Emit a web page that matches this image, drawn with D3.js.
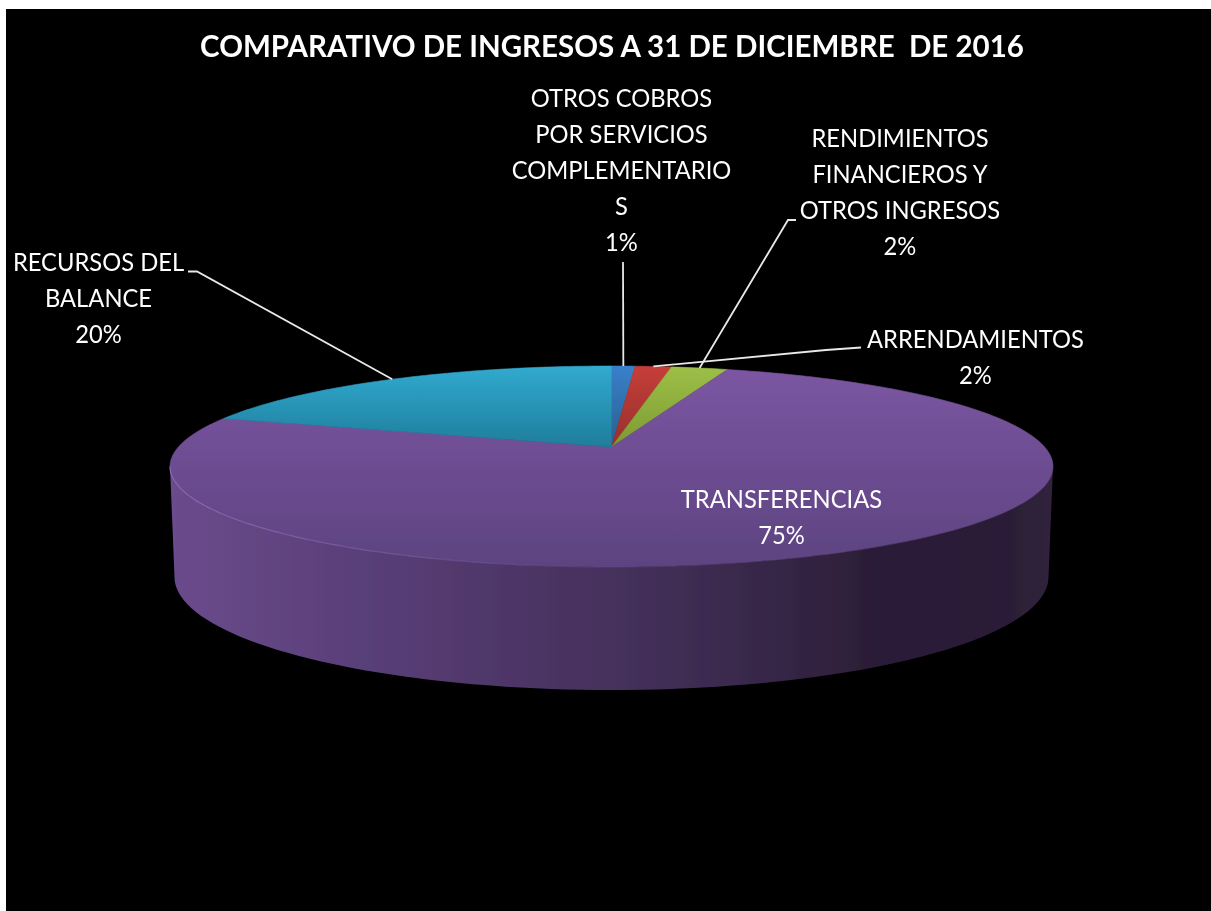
<!DOCTYPE html>
<html>
<head>
<meta charset="utf-8">
<script src="https://cdnjs.cloudflare.com/ajax/libs/d3/7.8.5/d3.min.js"></script>
<style>
  html, body { margin: 0; padding: 0; background: #fff; }
  svg { display: block; }
  text { font-family: Lato, "Open Sans", sans-serif; fill: #fff; }
</style>
</head>
<body>
<div id="chart"></div>
<script>
const chartTitle = "COMPARATIVO DE INGRESOS A 31 DE DICIEMBRE  DE 2016"
const categories = ["OTROS COBROS POR SERVICIOS COMPLEMENTARIOS", "ARRENDAMIENTOS", "RENDIMIENTOS FINANCIEROS Y OTROS INGRESOS", "TRANSFERENCIAS", "RECURSOS DEL BALANCE"]
const shares = [1.04, 1.6, 2.49, 74.95, 19.92]
const labelLines = [
    ["OTROS COBROS", "POR SERVICIOS", "COMPLEMENTARIO", "S"],
    ["ARRENDAMIENTOS"],
    ["RENDIMIENTOS", "FINANCIEROS Y", "OTROS INGRESOS"],
    ["TRANSFERENCIAS"],
    ["RECURSOS DEL", "BALANCE"]
]

const width = 1211, height = 911

// label layout: centre x, first baseline, then the bent part of the leader line
const labelLayout = [
    { x: 621.5, y: 107, from: [623, 262], elbow: null },
    { x: 975.5, y: 348, from: [861, 347.5], elbow: [826, 350] },
    { x: 900, y: 147, from: [796, 220], elbow: [788, 220] },
    { x: 781.5, y: 508 },
    { x: 98.5, y: 271, from: [188, 271.5], elbow: [197, 271.5] }
]
const lineStep = 36

// slice colours, light (back) to dark (front)
const sliceColors = [
    ["#3a7fcb", "#27608f"],
    ["#c63e39", "#96302c"],
    ["#9dbf47", "#7d9a33"],
    ["#7b56a2", "#5d4380"],
    ["#31aacf", "#1f7d9c"]
]

// top of the pie: a circle seen in perspective, so the centre sits above the middle of the ellipse
const cx = 611.5, apexY = 447
const topBack = 366, topFront = 567, topRx = 441.5
const backDy = apexY - topBack, frontDy = topFront - apexY
const b = (backDy - frontDy) / (backDy + frontDy)
const A = frontDy * (1 + b)
const C = topRx * Math.sqrt(1 - b * b)

function project(angle) {
    const u = Math.sin(angle), v = -Math.cos(angle)
    const w = 1 + b * v
    return [cx + C * u / w, apexY + A * v / w]
}

// ellipses for the rim and the base of the wall
const rim = { cx: cx, cy: (topBack + topFront) / 2, rx: topRx, ry: (topFront - topBack) / 2 }
const base = { cx: cx, cy: 577, rx: 437, ry: 113 }
const onEllipse = (e, t) => [e.cx + e.rx * Math.cos(t), e.cy + e.ry * Math.sin(t)]

let svg = d3.select("#chart")
    .append("svg")
    .attr("width", width)
    .attr("height", height)

let defs = svg.append("defs")

// the reference is a slightly soft screenshot
defs.append("filter").attr("id", "soft")
    .attr("x", "-5%").attr("y", "-5%").attr("width", "110%").attr("height", "110%")
    .append("feGaussianBlur").attr("stdDeviation", 0.7)

svg.append("rect")
    .attr("x", 6)
    .attr("y", 9)
    .attr("width", width - 6)
    .attr("height", height - 9)
    .attr("fill", "#000")

let chart = svg.append("g").attr("filter", "url(#soft)")

chart.append("text")
    .attr("text-anchor", "middle")
    .attr("font-size", 30.5)
    .attr("font-weight", 700)
    .attr("transform", "translate(612,56.5) scale(0.967,1)")
    .style("white-space", "pre")
    .text(chartTitle)

// wall under the rim
let wallGrad = defs.append("linearGradient")
    .attr("id", "wallGrad")
    .attr("gradientUnits", "userSpaceOnUse")
    .attr("x1", 170).attr("x2", 1053).attr("y1", 0).attr("y2", 0)

const wallStops = [
    [0, "#6b4b8c"], [0.2, "#5a407a"], [0.4, "#4d3566"], [0.6, "#3e2c52"],
    [0.8, "#2b1e37"], [0.93, "#2a1d36"], [1, "#30233c"]
]
wallStops.forEach(s => wallGrad.append("stop").attr("offset", s[0]).attr("stop-color", s[1]))

const rimArc = d3.range(0, 181, 2).map(d => onEllipse(rim, d * Math.PI / 180))
const baseArc = d3.range(180, -1, -2).map(d => onEllipse(base, d * Math.PI / 180))
const line = d3.line()

chart.append("path")
    .attr("d", line(rimArc.concat(baseArc)) + "Z")
    .attr("fill", "url(#wallGrad)")

// slices
let pie = d3.pie().sort(null).value(d => d).startAngle(0).endAngle(2 * Math.PI)
let arcs = pie(shares)

let grads = defs.selectAll(".sliceGrad")
    .data(sliceColors)
    .enter()
    .append("linearGradient")
    .attr("id", (d, i) => "slice" + i)
    .attr("x1", 0).attr("x2", 0).attr("y1", 0).attr("y2", 1)

grads.append("stop").attr("offset", 0).attr("stop-color", d => d[0])
grads.append("stop").attr("offset", 1).attr("stop-color", d => d[1])

function slicePoints(d) {
    let n = Math.max(4, Math.ceil((d.endAngle - d.startAngle) * 60))
    let pts = d3.range(n + 1).map(i => project(d.startAngle + (d.endAngle - d.startAngle) * i / n))
    return [[cx, apexY]].concat(pts)
}

// the hairline stroke closes the seams between neighbouring slices
chart.selectAll(".slice")
    .data(arcs)
    .enter()
    .append("path")
    .attr("class", "slice")
    .attr("d", d => line(slicePoints(d)) + "Z")
    .attr("fill", (d, i) => "url(#slice" + i + ")")
    .attr("stroke", (d, i) => "url(#slice" + i + ")")
    .attr("stroke-width", 0.6)

// thin highlight on the left part of the rim, fading out towards the front
let rimGrad = defs.append("linearGradient")
    .attr("id", "rimGrad")
    .attr("gradientUnits", "userSpaceOnUse")
    .attr("x1", 170).attr("x2", 640).attr("y1", 0).attr("y2", 0)
rimGrad.append("stop").attr("offset", 0).attr("stop-color", "#8f6bb6").attr("stop-opacity", 0.9)
rimGrad.append("stop").attr("offset", 1).attr("stop-color", "#8f6bb6").attr("stop-opacity", 0)

chart.append("path")
    .attr("d", line(d3.range(88, 181, 1).map(d => onEllipse(rim, d * Math.PI / 180))))
    .attr("fill", "none")
    .attr("stroke", "url(#rimGrad)")
    .attr("stroke-width", 1.2)

// leader lines run from the label to the middle of the slice's outer edge
arcs.forEach((d, i) => {
    let l = labelLayout[i]
    if (!l.from) return
    let pts = [l.from]
    if (l.elbow) pts.push(l.elbow)
    pts.push(project((d.startAngle + d.endAngle) / 2))
    chart.append("path")
        .attr("d", line(pts))
        .attr("fill", "none")
        .attr("stroke", "#e8e8e8")
        .attr("stroke-width", 1.8)
})

// labels
arcs.forEach((d, i) => {
    let l = labelLayout[i]
    let lines = labelLines[i].concat([Math.round(shares[i]) + "%"])
    let t = chart.append("text")
        .attr("text-anchor", "middle")
        .attr("font-size", 25)
        .attr("transform", "translate(" + l.x + "," + l.y + ") scale(0.95,1)")
    t.selectAll("tspan")
        .data(lines)
        .enter()
        .append("tspan")
        .attr("x", 0)
        .attr("y", (s, j) => j * lineStep)
        .text(s => s)
})
</script>
</body>
</html>
